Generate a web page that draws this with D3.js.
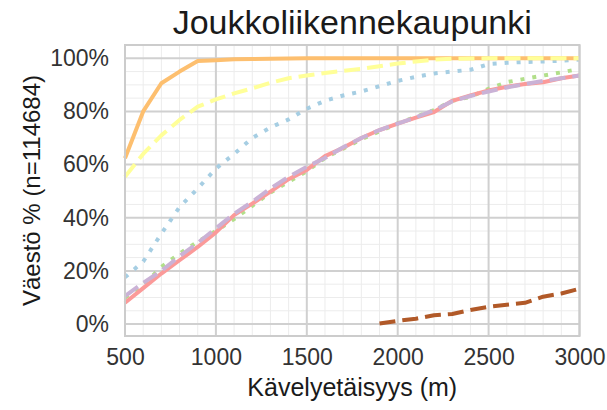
<!DOCTYPE html>
<html><head><meta charset="utf-8">
<script src="https://cdn.jsdelivr.net/npm/d3@7"></script>
<style>body{margin:0;background:#fff}svg{display:block}text{font-family:"Liberation Sans",Arial,sans-serif}</style>
</head><body><svg id="c" width="607" height="410"></svg>
<script>
const distances = [500,600,700,800,900,1000,1100,1200,1300,1400,1500,1600,1700,1800,1900,2000,2100,2200,2300,2400,2500,2600,2700,2800,2900,3000];
const blueVals   = [17.6,23.5,34,44,51,58.5,64,70,74,77,81,84,86,87.5,89.5,91.5,93,94.3,95,95.7,97.8,98.3,98.6,98.8,99.1,99.5];
const greenVals  = [10,14.5,21.5,26.5,31,35,39.5,44.5,49.5,53.5,57.5,62.5,66,69.5,72.5,75.5,78,80.5,84,85.5,88.5,91,92.3,93.5,94.7,96];
const pinkVals   = [8,13.5,19,24,29,34.5,41,45.3,49.8,54.5,58,63.2,66.3,70,73,75.4,77.7,79.8,84,86,87.9,89.3,90.3,91,92.5,93.5];
const orangeVals = [62.4,80,90.6,95,99,99.3,99.6,99.7,99.8,99.9,100,100,100,100,100,100,100,100,100,100,100,100,100,100,100,100];
const purpleVals = [10.5,15.5,20,25.5,30.5,36,41.5,46,51,55.4,59.2,62.5,66.5,70,73,75.4,77.8,80.5,83.8,85.8,87.5,89,90.3,91.5,92.5,93.5];
const yellowVals = [55.4,64,71,76.8,81.8,84.5,86.8,88.7,90.8,92.5,93.5,94.5,95.3,96,97,98,98.8,99.5,99.8,99.9,100,100,100,100,100,100];
const brownDist  = [1900,2000,2100,2200,2300,2400,2500,2600,2700,2800,2900,3000];
const brownVals  = [0.2,1.2,2,3.3,3.8,5.3,6.5,7.3,8,10.3,11.5,13.3];
const xTicks = [500,1000,1500,2000,2500,3000];
const yTicks = [0,20,40,60,80,100];
const titleText = "Joukkoliikennekaupunki";
const xTitle = "Kävelyetäisyys (m)";
const yTitle = "Väestö % (n=114684)";

const series = [
  {x: distances, y: blueVals,   color: "#A6CEE3", dash: "4,8"},
  {x: distances, y: greenVals,  color: "#B2DF8A", dash: "4,8"},
  {x: distances, y: pinkVals,   color: "#FB9A99", dash: null},
  {x: distances, y: orangeVals, color: "#FDBF6F", dash: null},
  {x: distances, y: purpleVals, color: "#CAB2D6", dash: "16,7"},
  {x: distances, y: yellowVals, color: "#FFFF99", dash: "16,7"},
  {x: brownDist, y: brownVals,  color: "#B15928", dash: "16,7"}
];

const L = 125, R = 579.5, T = 45, B = 336;
const svg = d3.select("#c");
const x = d3.scaleLinear().domain([500,3000]).range([L,R]);
const y = d3.scaleLinear().domain([-4.5,105]).range([B,T]);

const g = svg.append("g");
// minor grid
g.selectAll(".vmin").data(d3.range(500,3001,100).filter(v=>v%500)).enter().append("line")
  .attr("x1",d=>x(d)).attr("x2",d=>x(d)).attr("y1",T).attr("y2",B)
  .attr("stroke","#ececec").attr("stroke-width",1);
g.selectAll(".hmin").data(d3.range(0,101,5).filter(v=>v%20)).enter().append("line")
  .attr("x1",L).attr("x2",R).attr("y1",d=>y(d)).attr("y2",d=>y(d))
  .attr("stroke","#ececec").attr("stroke-width",1);
// major grid
g.selectAll(".vmaj").data(xTicks).enter().append("line")
  .attr("x1",d=>x(d)).attr("x2",d=>x(d)).attr("y1",T).attr("y2",B)
  .attr("stroke","#d0d0d0").attr("stroke-width",2);
g.selectAll(".hmaj").data(yTicks).enter().append("line")
  .attr("x1",L).attr("x2",R).attr("y1",d=>y(d)).attr("y2",d=>y(d))
  .attr("stroke","#d0d0d0").attr("stroke-width",2);

const line = d3.line().x(d=>x(d[0])).y(d=>y(d[1]));
series.forEach(s=>{
  g.append("path").datum(s.x.map((v,i)=>[v,s.y[i]]))
    .attr("d",line).attr("fill","none").attr("stroke",s.color)
    .attr("stroke-width",4).attr("stroke-linejoin","round")
    .attr("stroke-dasharray",s.dash);
});
// border
g.append("rect").attr("x",L).attr("y",T).attr("width",R-L).attr("height",B-T)
  .attr("fill","none").attr("stroke","#cccccc").attr("stroke-width",2);

// axes
const xa = svg.append("g").attr("transform",`translate(0,${B})`)
  .call(d3.axisBottom(x).tickValues(xTicks).tickSize(0).tickPadding(13).tickFormat(d3.format("d")));
const ya = svg.append("g").attr("transform",`translate(${L},0)`)
  .call(d3.axisLeft(y).tickValues(yTicks).tickSize(0).tickPadding(16).tickFormat(d=>d+"%"));
[xa,ya].forEach(a=>{a.select(".domain").remove();
  a.selectAll("text").attr("font-size",23).attr("fill","#333").attr("font-family","Liberation Sans, Arial, sans-serif");});

svg.append("text").attr("x",(L+R)/2).attr("y",34).attr("text-anchor","middle")
  .attr("font-size",34).attr("fill","#1a1a1a").text(titleText);
svg.append("text").attr("x",(L+R)/2).attr("y",396).attr("text-anchor","middle")
  .attr("font-size",25).attr("fill","#1a1a1a").text(xTitle);
svg.append("text").attr("transform",`translate(40,${(T+B)/2}) rotate(-90)`).attr("text-anchor","middle")
  .attr("font-size",24).attr("fill","#1a1a1a").text(yTitle);
</script></body></html>
